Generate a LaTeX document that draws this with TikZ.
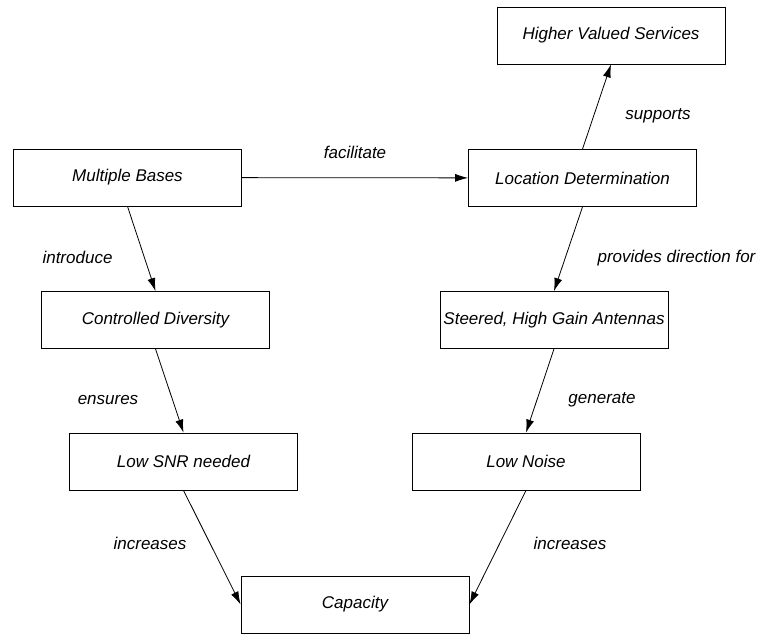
\documentclass[tikz,border=0pt]{standalone}
\usepackage{fontspec}
\setmainfont{Liberation Sans}
\usetikzlibrary{arrows.meta}

\tikzset{
    concept/.style={draw,line width=0.8pt,minimum width=228pt,minimum height=57pt,
        inner sep=0pt,font=\itshape\fontsize{17}{20}\selectfont},
    verb/.style={font=\itshape\fontsize{17}{20}\selectfont,inner sep=0pt},
    link/.style={line width=0.8pt,-{Latex[length=13pt,width=8pt]}}
}

\begin{document}
\begin{tikzpicture}[x=1pt,y=-1pt]
    \useasboundingbox (0,0) rectangle (759,633);

    % concepts
    \node[concept] (services)  at (611,35.5)   {Higher Valued Services};
    \node[concept] (location)  at (582.5,178)  {Location Determination};
    \node[concept] (bases)     at (127.5,177.5) {Multiple Bases};
    \node[concept] (diversity) at (155.5,320)  {Controlled Diversity};
    \node[concept] (antennas)  at (554,320)    {Steered, High Gain Antennas};
    \node[concept] (snr)       at (183.5,461.5) {Low SNR needed};
    \node[concept] (noise)     at (526,461.5)  {Low Noise};
    \node[concept] (capacity)  at (355,604.5)  {Capacity};

    % links
    \draw[link] (bases) -- (location);
    \draw[link] (location.north) -- (services.south);
    \draw[link] (location.south) -- (antennas.north);
    \draw[link] (bases.south) -- (diversity.north);
    \draw[link] (diversity.south) -- (snr.north);
    \draw[link] (antennas.south) -- (noise.north);
    \draw[link] (snr.south) -- (capacity.west);
    \draw[link] (noise.south) -- (capacity.east);

    % link labels
    \node[verb] (facilitate) at (355,152)   {facilitate};
    \node[verb] (supports)   at (658,116)   {supports};
    \node[verb] (provides)   at (676.5,258) {provides direction for};
    \node[verb] (introduce)  at (77.5,257)  {introduce};
    \node[verb] (ensures)    at (108,400)   {ensures};
    \node[verb] (generate)   at (602,400)   {generate};
    \node[verb] (incleft)    at (150,543)   {increases};
    \node[verb] (incright)   at (570,543)   {increases};
\end{tikzpicture}
\end{document}
